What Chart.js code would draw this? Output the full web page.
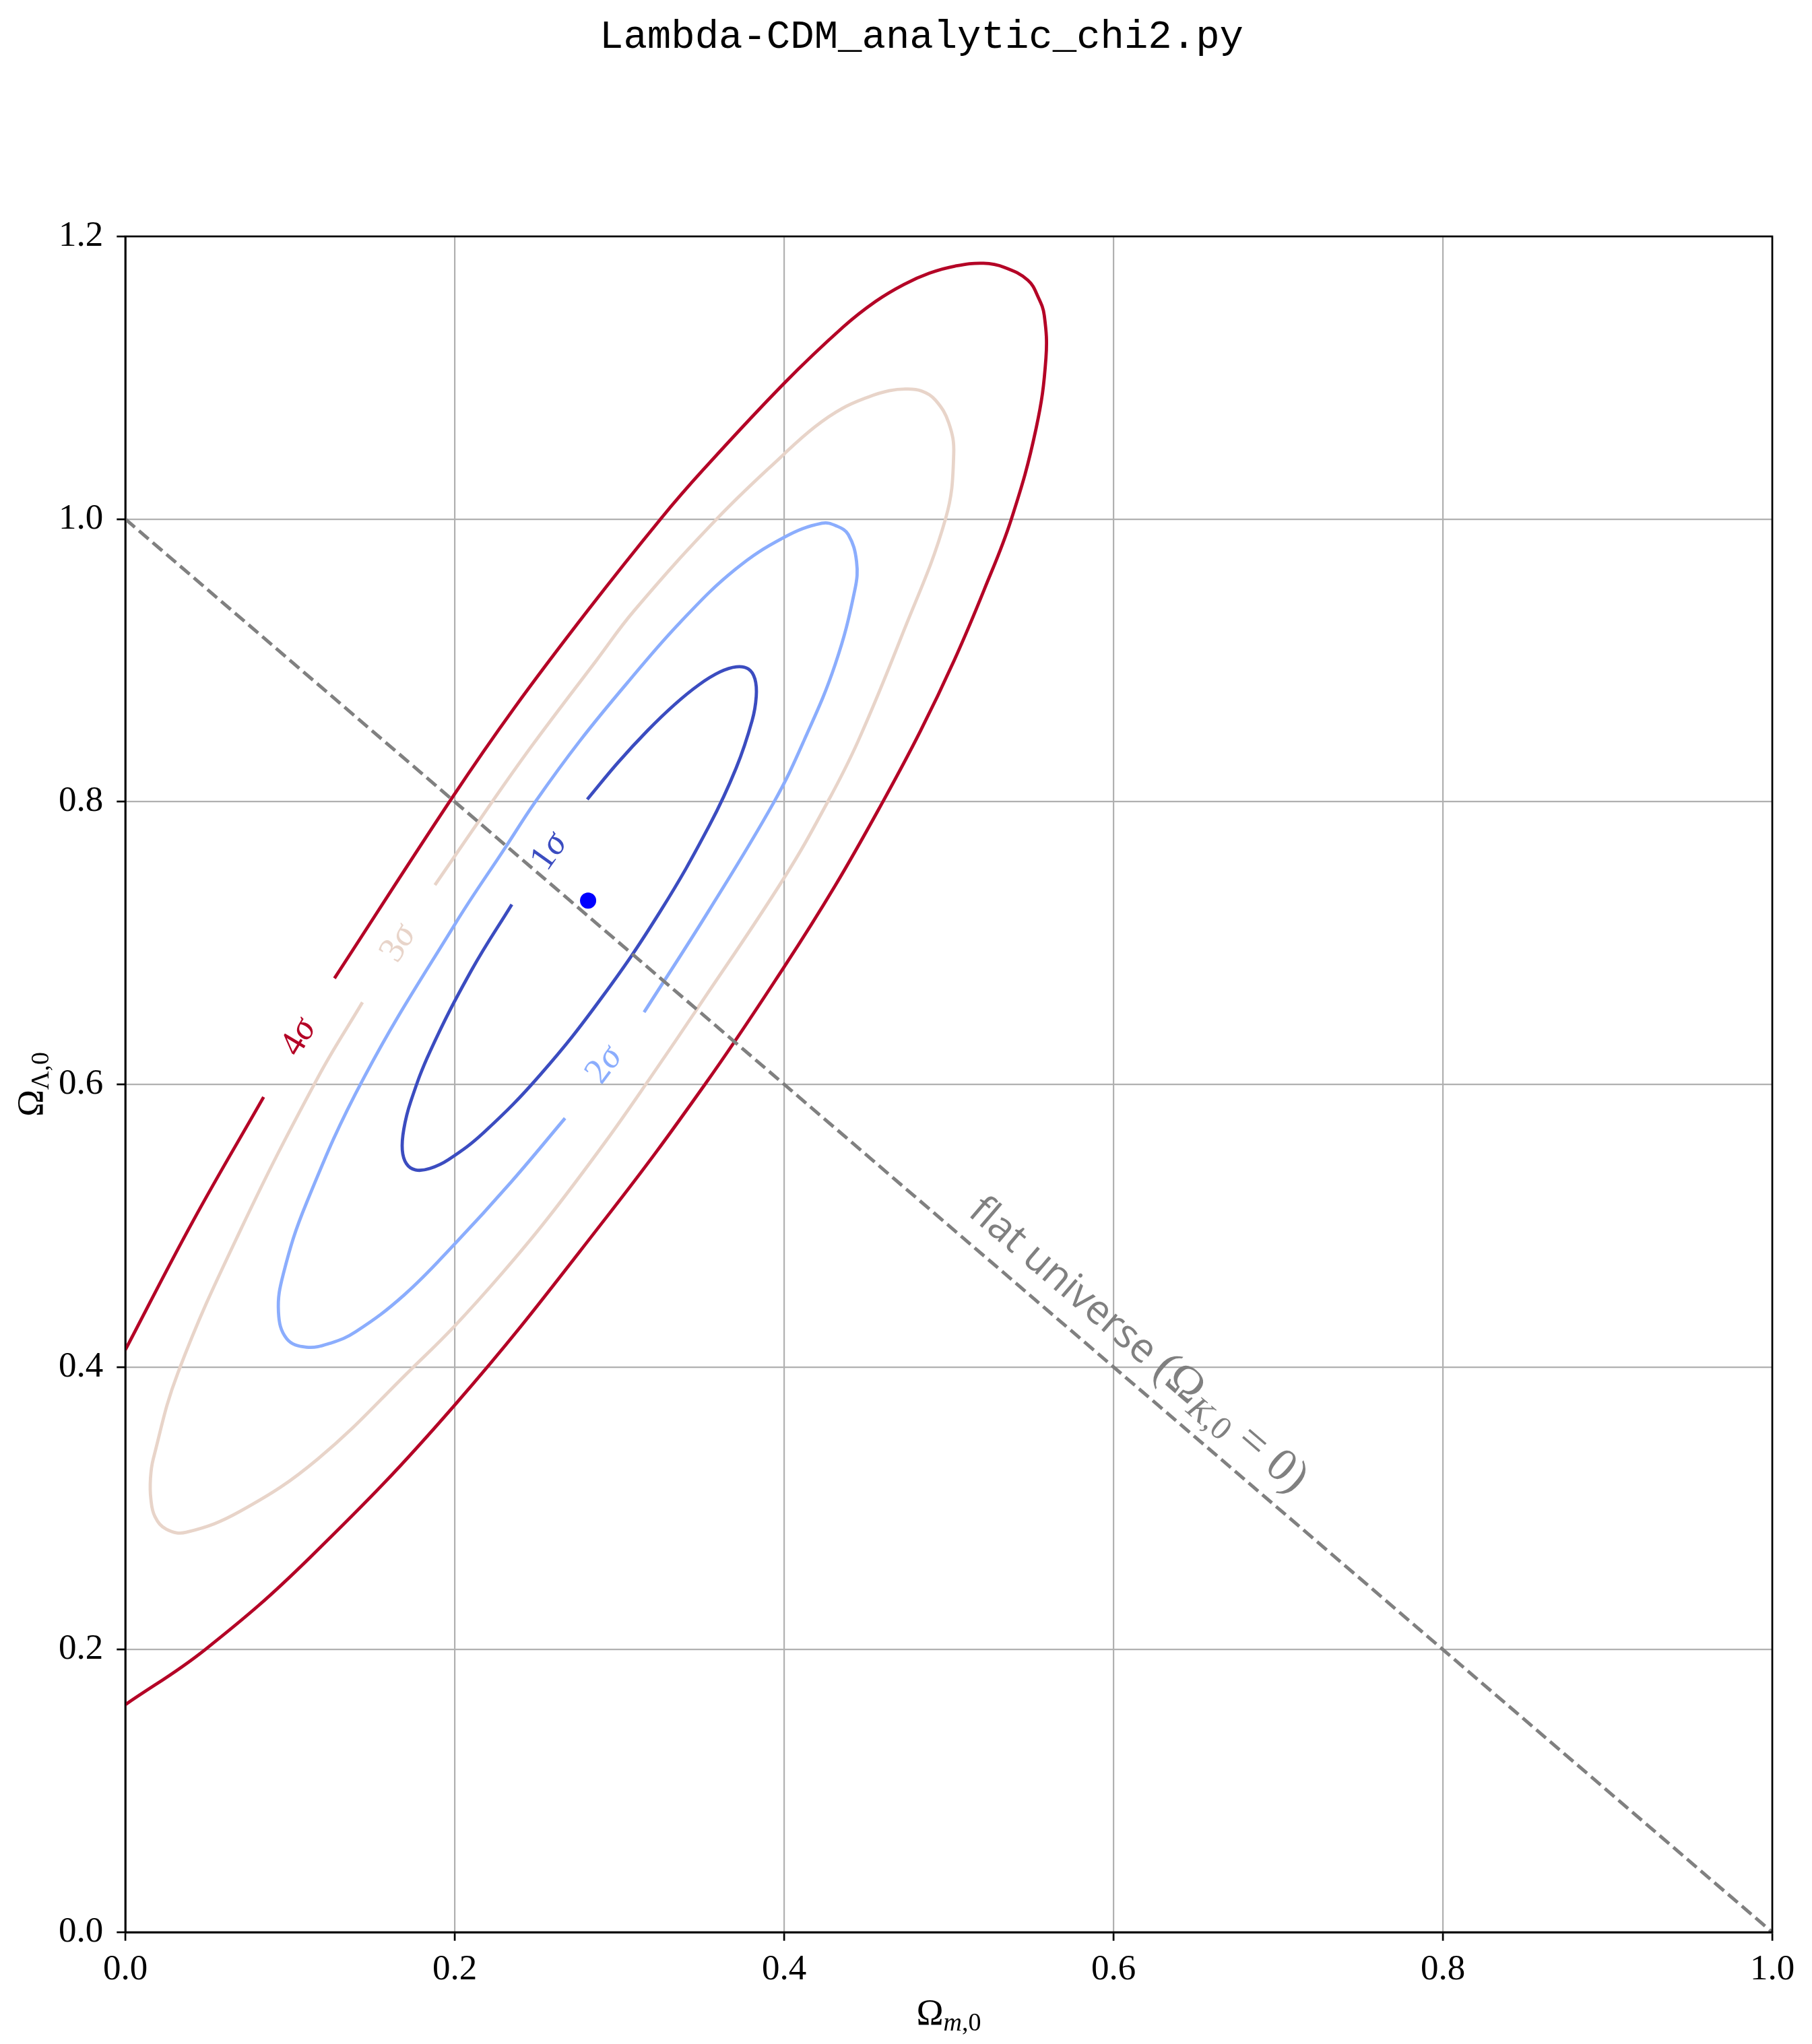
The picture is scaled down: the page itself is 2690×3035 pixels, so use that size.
<!DOCTYPE html>
<html><head><meta charset="utf-8">
<script src="https://cdn.jsdelivr.net/npm/chart.js@4/dist/chart.umd.min.js"></script>
<style>html,body{margin:0;padding:0;background:#fff;}canvas{display:block;}</style>
</head><body>
<canvas id="c" width="2690" height="3035"></canvas>
<script>
// ---- data ----
const xTickValues = [0.0, 0.2, 0.4, 0.6, 0.8, 1.0];
const yTickValues = [0.0, 0.2, 0.4, 0.6, 0.8, 1.0, 1.2];

const bestFitX = [0.281];
const bestFitY = [0.730];

const flatX = [0.0, 1.0];
const flatY = [1.0, 0.0];

const contourLabels = ['1σ', '2σ', '3σ', '4σ'];

// 1σ contour (label gap between last and first point)
const sigma1X = [0.2805, 0.2991, 0.3170, 0.3336, 0.3484, 0.3611, 0.3711, 0.3783, 0.3823, 0.3831, 0.3806, 0.3710, 0.3548, 0.3251, 0.2895, 0.2522, 0.2177, 0.1963, 0.1849, 0.1762, 0.1707, 0.1682, 0.1691, 0.1732, 0.1851, 0.2103, 0.2347];
const sigma1Y = [0.8016, 0.8276, 0.8502, 0.8688, 0.8828, 0.8918, 0.8954, 0.8939, 0.8868, 0.8745, 0.8574, 0.8241, 0.7835, 0.7229, 0.6617, 0.6071, 0.5659, 0.5467, 0.5404, 0.5394, 0.5438, 0.5535, 0.5682, 0.5874, 0.6234, 0.6809, 0.7273];

// 2σ contour
const sigma2X = [0.315, 0.354, 0.394, 0.412, 0.431, 0.443, 0.444, 0.439, 0.432, 0.423, 0.400, 0.370, 0.337, 0.3059, 0.276, 0.249, 0.231, 0.200, 0.145, 0.110, 0.096, 0.093, 0.098, 0.110, 0.1245, 0.140, 0.1693, 0.200, 0.234, 0.267];
const sigma2Y = [0.651, 0.7223, 0.800, 0.843, 0.897, 0.950, 0.970, 0.989, 0.995, 0.997, 0.987, 0.964, 0.927, 0.8856, 0.843, 0.800, 0.768, 0.713, 0.605, 0.516, 0.466, 0.439, 0.420, 0.414, 0.4168, 0.425, 0.4509, 0.487, 0.5305, 0.576];

// 3σ contour
const sigma3X = [0.188, 0.224, 0.248, 0.286, 0.309, 0.3591, 0.400, 0.4188, 0.4352, 0.4515, 0.4638, 0.474, 0.4834, 0.492, 0.500, 0.503, 0.498, 0.471, 0.445, 0.427, 0.400, 0.347, 0.319, 0.292, 0.2563, 0.2288, 0.200, 0.175, 0.117, 0.070, 0.037, 0.0249, 0.0180, 0.0155, 0.0153, 0.017, 0.032, 0.070, 0.117, 0.144];
const sigma3Y = [0.741, 0.802, 0.8413, 0.8999, 0.9352, 1.000, 1.046, 1.0653, 1.0782, 1.0865, 1.0908, 1.092, 1.0906, 1.084, 1.068, 1.046, 1.000, 0.916, 0.843, 0.801, 0.746, 0.653, 0.605, 0.5601, 0.5049, 0.4663, 0.429, 0.400, 0.335, 0.298, 0.283, 0.2852, 0.2941, 0.3069, 0.3213, 0.335, 0.396, 0.497, 0.605, 0.658];

// 4σ contour (cut by the left axis; null = label gap)
const sigma4X = [0.000, 0.0485, 0.112, 0.200, 0.292, 0.352, 0.400, 0.4311, 0.460, 0.4828, 0.5033, 0.5215, 0.538, 0.553, 0.559, 0.558, 0.5543, 0.548, 0.534, 0.5211, 0.5039, 0.4883, 0.4728, 0.4556, 0.436, 0.400, 0.351, 0.325, 0.2806, 0.236, 0.198, 0.127, null, 0.084, 0.041, 0.000];
const sigma4Y = [0.161, 0.200, 0.265, 0.373, 0.5057, 0.600, 0.683, 0.7407, 0.800, 0.850, 0.900, 0.950, 1.000, 1.064, 1.114, 1.144, 1.157, 1.169, 1.178, 1.181, 1.179, 1.174, 1.166, 1.154, 1.136, 1.096, 1.035, 1.000, 0.935, 0.866, 0.802, 0.675, null, 0.591, 0.503, 0.412];

// ---- styling ----
const contourColors = ['#3b4cc0', '#8badfd', '#e8d4c9', '#b40426'];
const contourX = [sigma1X, sigma2X, sigma3X, sigma4X];
const contourY = [sigma1Y, sigma2Y, sigma3Y, sigma4Y];
const SERIF = 'Liberation Serif';

function splitSegments(xs, ys) {
  const segs = []; let cur = [];
  for (let i = 0; i < xs.length; i++) {
    if (xs[i] === null || ys[i] === null) { if (cur.length) segs.push(cur); cur = []; }
    else cur.push({x: xs[i], y: ys[i]});
  }
  if (cur.length) segs.push(cur);
  return segs;
}
function gapEnds(xs, ys) {
  const k = xs.indexOf(null);
  if (k > 0) return [[xs[k-1], ys[k-1]], [xs[k+1], ys[k+1]]];
  return [[xs[xs.length-1], ys[ys.length-1]], [xs[0], ys[0]]];
}

const datasets = [];
datasets.push({
  data: bestFitX.map((x, i) => ({x, y: bestFitY[i]})),
  showLine: false, pointRadius: 12, pointBackgroundColor: '#0000ff', pointBorderWidth: 0,
  order: 0
});
datasets.push({
  data: flatX.map((x, i) => ({x, y: flatY[i]})),
  showLine: true, pointRadius: 0, borderColor: '#808080', borderWidth: 5, borderDash: [18.7, 8.1],
  order: 1
});
for (let c = 0; c < 4; c++) {
  splitSegments(contourX[c], contourY[c]).forEach(seg => {
    datasets.push({
      data: seg, showLine: true, pointRadius: 0, borderColor: contourColors[c], borderWidth: 4.8,
      tension: 0.4, order: 2
    });
  });
}

function drawRich(ctx, segs, x, y, align) {
  let total = 0;
  segs.forEach(s => { ctx.font = s.font; s.w = ctx.measureText(s.t).width; total += s.w; });
  let cx = align === 'center' ? x - total / 2 : x;
  segs.forEach(s => { ctx.font = s.font; ctx.fillText(s.t, cx, y + (s.dy || 0)); cx += s.w; });
}

const decorPlugin = {
  id: 'decor',
  beforeDraw(chart) {
    const ctx = chart.ctx;
    ctx.save(); ctx.fillStyle = '#fff'; ctx.fillRect(0, 0, chart.width, chart.height); ctx.restore();
  },
  afterDatasetsDraw(chart) {
    const ctx = chart.ctx, xs = chart.scales.x, ys = chart.scales.y, a = chart.chartArea;
    // contour labels, centred in each gap and rotated along it
    for (let c = 0; c < 4; c++) {
      const [p, q] = gapEnds(contourX[c], contourY[c]);
      const p1 = {x: xs.getPixelForValue(p[0]), y: ys.getPixelForValue(p[1])};
      const p2 = {x: xs.getPixelForValue(q[0]), y: ys.getPixelForValue(q[1])};
      let ang = Math.atan2(p2.y - p1.y, p2.x - p1.x);
      if (ang > Math.PI / 2) ang -= Math.PI;
      if (ang < -Math.PI / 2) ang += Math.PI;
      const lab = contourLabels[c];
      ctx.save();
      ctx.translate((p1.x + p2.x) / 2, (p1.y + p2.y) / 2);
      ctx.rotate(ang);
      ctx.fillStyle = contourColors[c];
      ctx.textBaseline = 'middle';
      drawRich(ctx, [
        {t: lab.slice(0, -1), font: `54px "${SERIF}"`},
        {t: lab.slice(-1), font: `italic 54px "${SERIF}"`}
      ], 0, 0, 'center');
      ctx.restore();
    }
    // flat universe annotation
    const l0 = {x: xs.getPixelForValue(flatX[0]), y: ys.getPixelForValue(flatY[0])};
    const l1 = {x: xs.getPixelForValue(flatX[1]), y: ys.getPixelForValue(flatY[1])};
    const ang = Math.atan2(l1.y - l0.y, l1.x - l0.x);
    const ax = xs.getPixelForValue(0.503), ay = ys.getPixelForValue(1 - 0.503);
    ctx.save();
    ctx.translate(ax + Math.sin(ang) * 30, ay - Math.cos(ang) * 30);
    ctx.rotate(ang);
    ctx.fillStyle = '#808080';
    ctx.textBaseline = 'alphabetic';
    drawRich(ctx, [
      {t: 'flat universe ', font: '60px "Open Sans"'},
      {t: '(', font: `70px "${SERIF}"`},
      {t: 'Ω', font: `70px "${SERIF}"`},
      {t: 'K', font: `italic 49px "${SERIF}"`, dy: 11},
      {t: ',0', font: `49px "${SERIF}"`, dy: 11},
      {t: ' = ', font: `70px "${SERIF}"`},
      {t: '0', font: `70px "${SERIF}"`},
      {t: ')', font: `70px "${SERIF}"`}
    ], 0, 0, 'left');
    ctx.restore();
    // frame (spines)
    ctx.save();
    ctx.strokeStyle = '#000'; ctx.lineWidth = 2.7;
    ctx.strokeRect(a.left, a.top, a.right - a.left, a.bottom - a.top);
    ctx.restore();
  },
  afterDraw(chart) {
    const ctx = chart.ctx, a = chart.chartArea;
    ctx.save();
    ctx.fillStyle = '#000';
    ctx.textBaseline = 'alphabetic';
    // title
    ctx.font = '59px "Liberation Mono"';
    ctx.textAlign = 'center';
    ctx.fillText('Lambda-CDM_analytic_chi2.py', 1368, 71);
    ctx.textAlign = 'left';
    // x label
    drawRich(ctx, [
      {t: 'Ω', font: `54px "${SERIF}"`},
      {t: 'm', font: `italic 38px "${SERIF}"`, dy: 9},
      {t: ',0', font: `38px "${SERIF}"`, dy: 9}
    ], (a.left + a.right) / 2, 3006, 'center');
    // y label
    ctx.translate(63, (a.top + a.bottom) / 2);
    ctx.rotate(-Math.PI / 2);
    drawRich(ctx, [
      {t: 'Ω', font: `54px "${SERIF}"`},
      {t: 'Λ', font: `38px "${SERIF}"`, dy: 9},
      {t: ',0', font: `38px "${SERIF}"`, dy: 9}
    ], 0, 0, 'center');
    ctx.restore();
  }
};

const tickFont = {family: SERIF, size: 53};
new Chart(document.getElementById('c'), {
  type: 'scatter',
  data: {datasets},
  options: {
    responsive: false, animation: false, devicePixelRatio: 1,
    layout: {padding: {top: 351, right: 59, left: 0, bottom: 0}},
    plugins: {legend: {display: false}, tooltip: {enabled: false}},
    scales: {
      x: {
        type: 'linear', min: 0, max: 1,
        afterBuildTicks: s => { s.ticks = xTickValues.map(v => ({value: v})); },
        afterFit: s => { s.height = 166; },
        ticks: {callback: v => Number(v).toFixed(1), font: tickFont, color: '#000', padding: 12, maxRotation: 0, autoSkip: false},
        grid: {color: '#b0b0b0', lineWidth: 2.2, tickColor: '#000', tickLength: 12.7, tickWidth: 2.7},
        border: {color: '#000', width: 2.7}
      },
      y: {
        type: 'linear', min: 0, max: 1.2,
        afterBuildTicks: s => { s.ticks = yTickValues.map(v => ({value: v})); },
        afterFit: s => { s.width = 186; },
        ticks: {callback: v => Number(v).toFixed(1), font: tickFont, color: '#000', padding: 20, autoSkip: false},
        grid: {color: '#b0b0b0', lineWidth: 2.2, tickColor: '#000', tickLength: 12.7, tickWidth: 2.7},
        border: {color: '#000', width: 2.7}
      }
    }
  },
  plugins: [decorPlugin]
});
</script>
</body></html>
